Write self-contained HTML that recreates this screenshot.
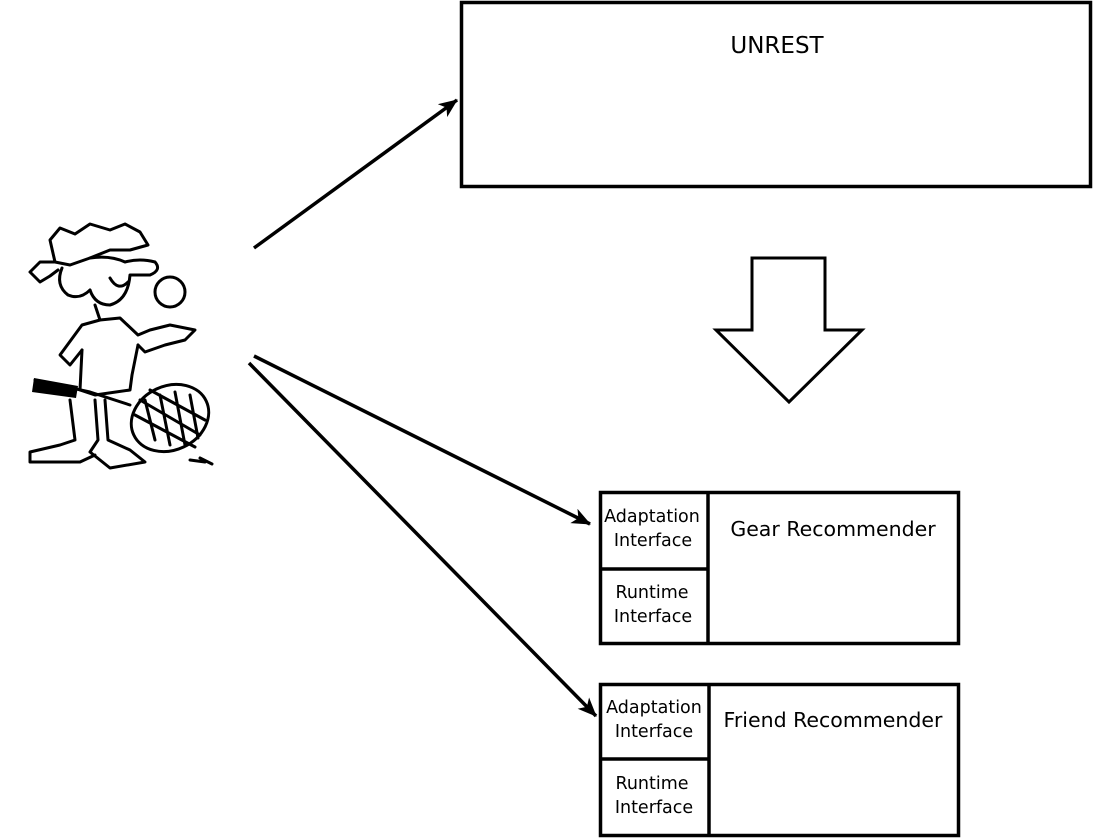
<!DOCTYPE html>
<html><head><meta charset="utf-8"><style>
html,body{margin:0;padding:0;background:#fff;width:1095px;height:840px;overflow:hidden}
svg{display:block}
text{font-family:"DejaVu Sans","Liberation Sans",sans-serif;fill:#000}
</style></head><body>
<svg width="1095" height="840" viewBox="0 0 1095 840">
<defs>
<marker id="ah2" markerWidth="20" markerHeight="16" refX="18" refY="8" orient="auto" markerUnits="userSpaceOnUse">
<path d="M0,0 L19,8 L0,16 L5,8 Z" fill="#000"/>
</marker>
</defs>
<g fill="none" stroke="#000" stroke-width="3.5">
<rect x="461.5" y="2.5" width="629" height="184"/>
<rect x="600.5" y="492.5" width="358" height="151"/>
<line x1="708" y1="492" x2="708" y2="644"/>
<line x1="600" y1="569" x2="708" y2="569"/>
<rect x="600.5" y="684.5" width="358" height="151"/>
<line x1="709" y1="684" x2="709" y2="836"/>
<line x1="600" y1="759" x2="709" y2="759"/>
<path d="M752,258 H825 V330 H862 L789,402 L716,330 H752 Z" stroke-width="3"/>
<line x1="254" y1="248" x2="457" y2="100" marker-end="url(#ah2)"/>
<line x1="254" y1="356" x2="590" y2="524" marker-end="url(#ah2)"/>
<line x1="249" y1="363" x2="596" y2="716" marker-end="url(#ah2)"/>
</g>
<text x="777" y="53" font-size="23" text-anchor="middle">UNREST</text>
<text x="833" y="536" font-size="20.5" text-anchor="middle">Gear Recommender</text>
<text x="833" y="727" font-size="20.5" text-anchor="middle">Friend Recommender</text>
<g font-size="17.5" text-anchor="middle">
<text x="652" y="522">Adaptation</text><text x="653" y="546">Interface</text>
<text x="652" y="598">Runtime</text><text x="653" y="622">Interface</text>
<text x="654" y="713">Adaptation</text><text x="654" y="737">Interface</text>
<text x="652" y="789">Runtime</text><text x="654" y="813">Interface</text>
</g>
<g fill="none" stroke="#000" stroke-width="3" stroke-linecap="round" stroke-linejoin="round">
<path d="M50,240 L60,228 L75,234 L90,224 L110,230 L125,224 L140,232 L148,245 L130,250 L110,250 L90,258 L70,265 L55,262 Z"/>
<path d="M55,262 L40,262 L30,272 L40,282 L50,276 L58,270"/>
<path d="M62,268 Q55,285 68,295 Q80,300 90,290"/>
<path d="M90,258 Q110,255 125,262 Q140,258 155,262 Q162,270 150,275 L130,275 Q128,300 110,305 Q95,305 90,290"/>
<path d="M110,278 Q118,292 128,282"/>
<circle cx="170" cy="292" r="15"/>
<path d="M95,305 L100,320 L82,325 L60,355 L70,365 L82,350"/>
<path d="M100,320 L120,318 L138,335 L150,330 L170,325 L195,330 L185,340 L165,345 L145,352 L138,345"/>
<path d="M82,350 L80,390 L95,395 L130,390 L132,375 L138,345"/>
<path d="M70,400 L75,440 L60,445 L30,452 L30,462 L80,462 L95,455"/>
<path d="M95,400 L98,440 L90,452 L110,468 L145,462 L130,450 L108,440 L105,400"/>
<ellipse cx="170" cy="418" rx="40" ry="32" transform="rotate(-25 170 418)"/>
<path d="M35,380 L90,392 L130,405"/>
<path d="M140,400 L200,435 M135,415 L195,447 M150,390 L205,420 M145,400 L155,440 M160,395 L170,445 M175,392 L185,445 M190,395 L198,438"/>
<path d="M190,460 L205,462 M200,458 L212,464"/>
</g>
<path d="M34,378 L78,386 L76,398 L32,392 Z" fill="#000"/>
</svg>
</body></html>
